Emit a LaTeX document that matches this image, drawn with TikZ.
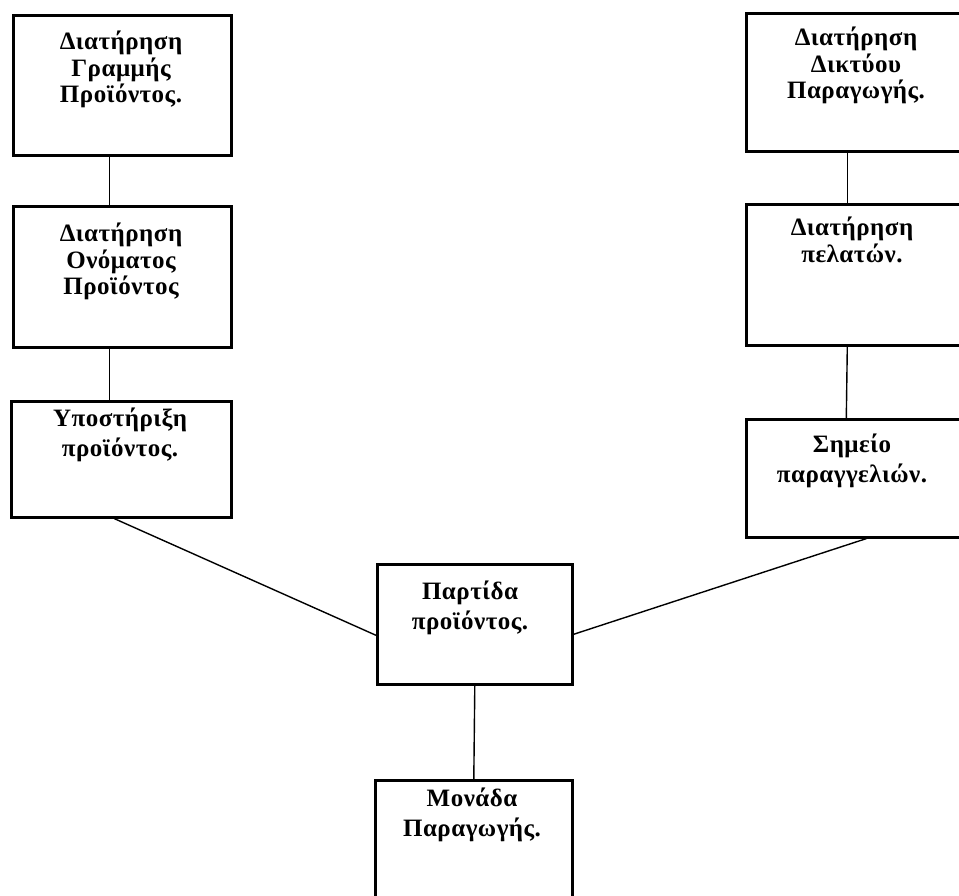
\documentclass[tikz,border=0pt]{standalone}
\usepackage{fontspec}
\setmainfont{Liberation Serif}
\newfontfamily\grbold[LetterSpace=2]{Liberation Serif Bold}
\begin{document}
\begin{tikzpicture}[x=1pt,y=-1pt,
  box/.style={draw=black,line width=2.6pt,rectangle,inner sep=0pt,anchor=north west},
  label/.style={anchor=north,align=center,inner sep=0pt,
    font=\grbold\fontsize{25}{26.5}\selectfont},
  widelabel/.style={label,font=\grbold\fontsize{25}{29.5}\selectfont},
  link/.style={draw=black,line width=1.4pt}]
\useasboundingbox (0,0) rectangle (959,895);
\begin{scope}
\clip (0,0) rectangle (959,895);
% left column
\node[box,minimum width=218pt,minimum height=140pt] (b1) at (12,14) {};
\node[box,minimum width=218pt,minimum height=141pt] (b2) at (12,205) {};
\node[box,minimum width=220pt,minimum height=116pt] (b3) at (10,400) {};
% right column
\node[box,minimum width=214pt,minimum height=138pt] (r1) at (745,12) {};
\node[box,minimum width=214pt,minimum height=141pt] (r2) at (745,203) {};
\node[box,minimum width=214pt,minimum height=118pt] (r3) at (745,418) {};
% centre
\node[box,minimum width=195pt,minimum height=120pt] (p) at (376,563) {};
\node[box,minimum width=197pt,minimum height=140pt] (m) at (374,779) {};
\end{scope}
% texts
\node[label] (t1) at (121,31) {Διατήρηση\\Γραμμής\\Προϊόντος.};
\node[label] (t2) at (121,223) {Διατήρηση\\Ονόματος\\Προϊόντος};
\node[widelabel] (t3) at (120,408) {Υποστήριξη\\προϊόντος.};
\node[label] (u1) at (856,27) {Διατήρηση\\Δικτύου\\Παραγωγής.};
\node[label] (u2) at (852,217) {Διατήρηση\\πελατών.};
\node[widelabel] (u3) at (852,434) {Σημείο\\παραγγελιών.};
\node[widelabel] (tp) at (470,581) {Παρτίδα\\προϊόντος.};
\node[widelabel] (tm) at (472,788) {Μονάδα\\Παραγωγής.};
% connectors
\draw[link] ([xshift=-13pt]b1.south) -- ([xshift=-13pt]b2.north);
\draw[link] ([xshift=-13pt]b2.south) -- ([xshift=-12pt]b3.north);
\draw[link] ([xshift=-6pt]r1.south) -- ([xshift=-6pt]r2.north);
\draw[link] ([xshift=-6pt]r2.south) -- ([xshift=-7pt]r3.north);
\draw[link] ([xshift=-7pt]b3.south) -- ([yshift=-11pt]p.west);
\draw[link] ([xshift=13pt]r3.south) -- ([yshift=-10pt]p.east);
\draw[link] (p.south) -- (m.north);
\end{tikzpicture}
\end{document}
